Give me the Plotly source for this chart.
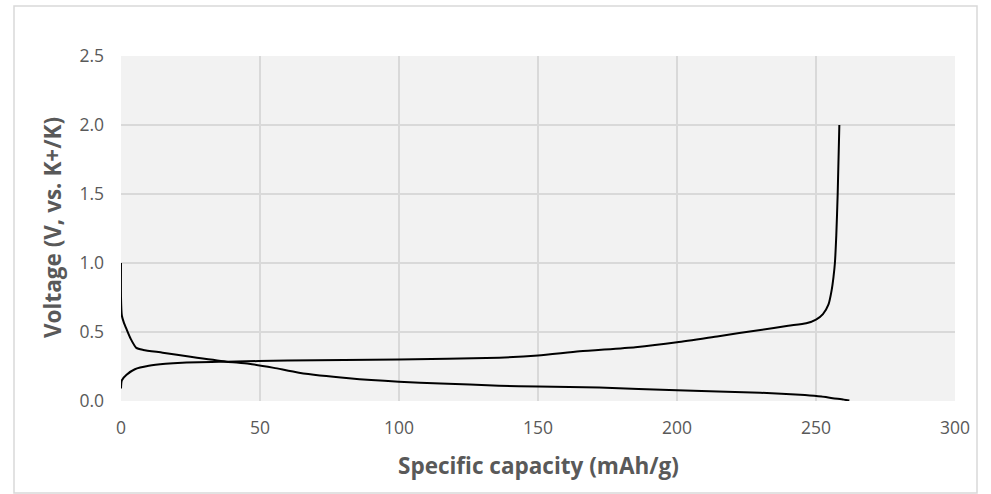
import plotly.graph_objects as go

# Discharge (potassiation) profile
discharge_capacity = [0, 0, 0.3, 1, 2, 3.5, 5.5, 8, 15, 25, 38, 46, 55, 64, 82, 100,
                      115, 136, 150, 172, 200, 230, 246, 252, 256, 260, 262]
discharge_voltage = [1.0, 0.75, 0.62, 0.57, 0.52, 0.45, 0.385, 0.37, 0.35, 0.32, 0.285,
                     0.27, 0.24, 0.205, 0.165, 0.14, 0.127, 0.111, 0.105, 0.097, 0.077,
                     0.06, 0.043, 0.032, 0.02, 0.01, 0.003]

# Charge (depotassiation) profile
charge_capacity = [0, 0.3, 2, 5, 10, 16, 22, 38, 60, 100, 136, 150, 165, 185, 200, 215,
                   230, 240, 246.5, 250, 252.5, 254.5, 255.6, 256.3, 256.8, 257.3,
                   257.8, 258.4]
charge_voltage = [0.09, 0.15, 0.19, 0.23, 0.255, 0.27, 0.278, 0.285, 0.293, 0.30, 0.314,
                  0.33, 0.36, 0.39, 0.425, 0.47, 0.515, 0.545, 0.563, 0.59, 0.63, 0.7,
                  0.8, 0.9, 1.0, 1.2, 1.5, 2.0]

x_ticks = [0, 50, 100, 150, 200, 250, 300]
y_ticks = [0.0, 0.5, 1.0, 1.5, 2.0, 2.5]

FONT = "Open Sans"
GREY = "#595959"
GRID = "#D9D9D9"

fig = go.Figure()
for xs, ys in [(discharge_capacity, discharge_voltage), (charge_capacity, charge_voltage)]:
    fig.add_trace(go.Scatter(x=xs, y=ys, mode="lines",
                             line=dict(color="black", width=2, shape="spline", smoothing=0.6),
                             showlegend=False, hoverinfo="skip"))

fig.update_layout(
    width=991, height=494,
    margin=dict(l=121, r=36, t=56, b=93),
    paper_bgcolor="white",
    plot_bgcolor="#F2F2F2",
    font=dict(family=FONT, color=GREY),
    xaxis=dict(range=[0, 300], tickvals=x_ticks, ticks="", showline=False,
               gridcolor=GRID, gridwidth=1.5, zeroline=False,
               tickfont=dict(size=17.5, color=GREY), ticklabelstandoff=14),
    yaxis=dict(range=[0, 2.5], tickvals=y_ticks, tickformat=".1f", ticks="",
               showline=False, gridcolor=GRID, gridwidth=1.5, zeroline=False,
               tickfont=dict(size=17.5, color=GREY), ticklabelstandoff=16),
    shapes=[dict(type="rect", xref="paper", yref="paper",
                 x0=(14 - 121) / 834, x1=(977 - 121) / 834,
                 y0=(401 - 493) / 345, y1=(401 - 6) / 345,
                 line=dict(color=GRID, width=1.5), fillcolor="rgba(0,0,0,0)",
                 layer="below")],
    annotations=[
        dict(text="<b>Specific capacity (mAh/g)</b>", xref="paper", yref="paper",
             x=(538 - 121) / 834, y=(401 - 465) / 345, xanchor="center", yanchor="middle",
             showarrow=False, font=dict(size=22.5, color=GREY, family=FONT)),
        dict(text="<b>Voltage (V, vs. K+/K)</b>", xref="paper", yref="paper",
             x=(52 - 121) / 834, y=(401 - 228) / 345, xanchor="center", yanchor="middle",
             textangle=-90, showarrow=False, font=dict(size=22.5, color=GREY, family=FONT)),
    ],
)

fig.write_html("out.html")
